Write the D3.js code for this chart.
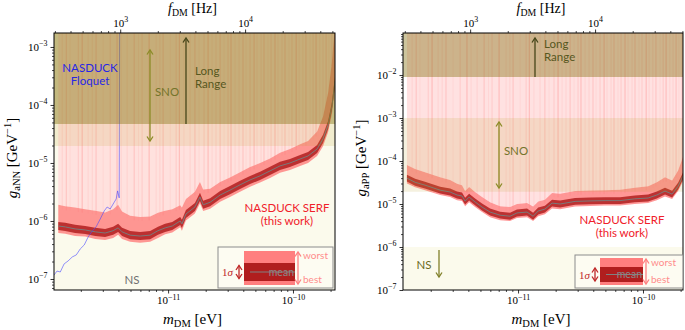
<!DOCTYPE html>
<html>
<head>
<meta charset="utf-8">
<script src="https://cdn.jsdelivr.net/npm/d3@7"></script>
<style>
  body { margin: 0; background: #fff; }
</style>
</head>
<body>
<svg id="chart" width="685" height="330"></svg>
<script>
const hPlanck = 4.1357e-15; // eV s, f = m / h

// g_aNN panel, NASDUCK SERF limit
const massNN = [1.32e-12, 1.50e-12, 1.80e-12, 2.17e-12, 2.61e-12, 3.13e-12, 3.63e-12, 3.98e-12, 4.28e-12, 4.97e-12,
  5.97e-12, 7.18e-12, 8.3e-12, 9.46e-12, 1.08e-11, 1.25e-11, 1.29e-11, 1.39e-11, 1.64e-11, 1.80e-11,
  1.91e-11, 2.17e-11, 2.61e-11, 3.13e-11, 3.77e-11, 4.53e-11, 5.45e-11, 6.55e-11, 7.87e-11, 9.46e-11,
  1.14e-10, 1.32e-10, 1.56e-10, 1.74e-10, 1.91e-10, 2.05e-10, 2.17e-10];
const meanNN = [8.2e-7, 7.9e-7, 7.3e-7, 7.0e-7, 6.5e-7, 6.2e-7, 6.8e-7, 7.6e-7, 6.5e-7, 5.7e-7,
  5.5e-7, 5.7e-7, 6.8e-7, 7.6e-7, 8.2e-7, 1.0e-6, 8.9e-7, 1.32e-6, 1.74e-6, 2.6e-6,
  1.9e-6, 2.1e-6, 2.8e-6, 3.4e-6, 4.2e-6, 5.1e-6, 6.0e-6, 7.3e-6, 8.9e-6, 1.0e-5,
  1.17e-5, 1.32e-5, 1.74e-5, 2.6e-5, 4.5e-5, 9.5e-5, 2.6e-4];
const worstNN = [1.9e-6, 1.8e-6, 1.7e-6, 1.6e-6, 1.5e-6, 1.4e-6, 1.6e-6, 1.9e-6, 1.45e-6, 1.23e-6,
  1.17e-6, 1.2e-6, 1.38e-6, 1.5e-6, 1.6e-6, 1.86e-6, 1.7e-6, 2.4e-6, 3.2e-6, 4.7e-6,
  3.5e-6, 3.6e-6, 4.7e-6, 5.6e-6, 6.9e-6, 8.5e-6, 1.0e-5, 1.2e-5, 1.5e-5, 1.74e-5,
  2.1e-5, 2.4e-5, 3.5e-5, 6.3e-5, 1.6e-4, 5.5e-4, 2.5e-3];
const bestNN = [6.2e-7, 6.0e-7, 5.5e-7, 5.4e-7, 4.9e-7, 4.7e-7, 5.1e-7, 5.8e-7, 4.9e-7, 4.4e-7,
  4.2e-7, 4.4e-7, 5.1e-7, 5.9e-7, 6.3e-7, 7.8e-7, 6.8e-7, 1.02e-6, 1.35e-6, 2.0e-6,
  1.48e-6, 1.62e-6, 2.14e-6, 2.6e-6, 3.2e-6, 3.9e-6, 4.6e-6, 5.5e-6, 6.8e-6, 7.6e-6,
  8.9e-6, 1.0e-5, 1.32e-5, 1.95e-5, 3.4e-5, 7.0e-5, 1.9e-4];

// g_aPP panel
const massPP = [1.29e-12, 1.50e-12, 1.80e-12, 2.38e-12, 2.86e-12, 3.25e-12, 3.56e-12, 3.77e-12, 4.06e-12, 4.53e-12,
  5.15e-12, 5.97e-12, 7.18e-12, 8.63e-12, 9.8e-12, 1.18e-11, 1.32e-11, 1.45e-11, 1.64e-11, 1.87e-11,
  2.17e-11, 2.86e-11, 3.77e-11, 4.97e-11, 6.55e-11, 8.6e-11, 1.10e-10, 1.29e-10, 1.50e-10, 1.71e-10,
  1.91e-10, 2.09e-10];
const meanPP = [4.0e-5, 3.2e-5, 2.75e-5, 2.1e-5, 1.9e-5, 1.62e-5, 1.54e-5, 1.17e-5, 1.45e-5, 1.12e-5,
  8.5e-6, 6.5e-6, 5.5e-6, 5.2e-6, 6.2e-6, 6.5e-6, 5.2e-6, 6.9e-6, 7.6e-6, 1.05e-5,
  1.0e-5, 1.15e-5, 1.18e-5, 1.2e-5, 1.2e-5, 1.32e-5, 1.38e-5, 1.62e-5, 2.0e-5, 1.7e-5,
  2.6e-5, 4.5e-5];
const worstPP = [8.1e-5, 6.5e-5, 5.5e-5, 4.2e-5, 3.6e-5, 2.95e-5, 2.75e-5, 2.0e-5, 2.5e-5, 1.9e-5,
  1.45e-5, 1.1e-5, 8.9e-6, 8.5e-6, 1.0e-5, 1.05e-5, 8.7e-6, 1.15e-5, 1.26e-5, 1.8e-5,
  1.74e-5, 2.0e-5, 2.05e-5, 2.1e-5, 2.15e-5, 2.4e-5, 2.6e-5, 3.2e-5, 4.2e-5, 3.5e-5,
  6.0e-5, 1.26e-4];
const bestPP = [3.0e-5, 2.45e-5, 2.1e-5, 1.62e-5, 1.45e-5, 1.23e-5, 1.17e-5, 8.9e-6, 1.1e-5, 8.5e-6,
  6.5e-6, 4.9e-6, 4.2e-6, 4.0e-6, 4.7e-6, 4.9e-6, 4.0e-6, 5.2e-6, 5.8e-6, 7.9e-6,
  7.6e-6, 8.7e-6, 9.0e-6, 9.2e-6, 9.2e-6, 1.0e-5, 1.05e-5, 1.23e-5, 1.5e-5, 1.3e-5,
  2.0e-5, 3.4e-5];

// 1 sigma half width of the dark band, in decades
const sigmaDexNN = 0.07;
const sigmaDexPP = 0.08;

// narrow frequency bins where the limit is much weaker (same frequencies in both panels)
const spikeMass = [1.42e-12, 1.53e-12, 1.64e-12, 1.91e-12, 2.05e-12, 2.29e-12, 2.47e-12, 2.65e-12, 3.02e-12, 3.44e-12,
  3.9e-12, 4.21e-12, 4.70e-12, 5.35e-12, 5.8e-12, 6.19e-12, 7.05e-12, 8.02e-12, 8.6e-12, 9.12e-12,
  1.04e-11, 1.16e-11, 1.23e-11, 1.34e-11, 1.50e-11, 1.64e-11, 1.77e-11, 1.94e-11, 2.09e-11, 2.25e-11,
  2.42e-11, 2.61e-11, 2.81e-11, 3.02e-11, 3.19e-11, 3.44e-11, 3.70e-11, 3.98e-11, 4.21e-11, 4.53e-11,
  4.88e-11, 5.15e-11, 5.55e-11, 5.86e-11, 6.31e-11, 6.67e-11, 7.18e-11, 7.59e-11, 8.17e-11, 8.63e-11,
  9.29e-11, 9.82e-11, 1.06e-10, 1.12e-10, 1.20e-10, 1.27e-10, 1.37e-10, 1.45e-10, 1.53e-10, 1.64e-10,
  1.74e-10, 1.84e-10, 1.94e-10, 2.05e-10];

// NASDUCK Floquet (g_aNN)
const floquetMass = [1.22e-12, 1.29e-12, 1.37e-12, 1.47e-12, 1.58e-12, 1.71e-12, 1.84e-12, 1.98e-12, 2.13e-12, 2.29e-12,
  2.47e-12, 2.65e-12, 2.86e-12, 3.08e-12, 3.25e-12, 3.44e-12, 3.63e-12, 3.84e-12, 3.94e-12, 4.06e-12, 4.10e-12];
const floquetG = [1.17e-7, 1.37e-7, 1.32e-7, 1.82e-7, 2.04e-7, 2.4e-7, 2.6e-7, 3.3e-7, 3.86e-7, 5.3e-7,
  6.7e-7, 7.9e-7, 1.08e-6, 1.49e-6, 1.74e-6, 1.61e-6, 1.96e-6, 2.4e-6, 3.3e-6, 2.5e-6, 1e-2];

// other bounds [lower, upper]
const snoNN = [1.96e-5, 1];
const longRangeNN = [4.7e-5, 1];
const snoPP = [1.93e-5, 1e-3];
const longRangePP = [9.0e-3, 1];
const nsPP = [1e-9, 1e-6];

const ticksMass = [1e-11, 1e-10];
const ticksFreq = [1e3, 1e4];
const ticksNN = [1e-7, 1e-6, 1e-5, 1e-4, 1e-3];
const ticksPP = [1e-7, 1e-6, 1e-5, 1e-4, 1e-3, 1e-2];

const serif = "'Liberation Serif', 'Times New Roman', serif";
const sans = "Lato, 'Liberation Sans', sans-serif";
const cream = "#fbfaec";
const annSize = 11.5;

const svg = d3.select("#chart");

const panels = [
  {
    id: "NN", x0: 54, x1: 335, y0: 33, y1: 290,
    mDomain: [1.22e-12, 2.17e-10], gDomain: [6.46e-8, 1.74e-3],
    mass: massNN, mean: meanNN, worst: worstNN, best: bestNN, sigma: sigmaDexNN,
    sno: snoNN, longRange: longRangeNN, ns: null, bg: cream,
    gTicks: ticksNN, gSub: "aNN", yLabelX: 17,
    snoArrow: { x: 96, from: 17, to: 108, both: true }, snoText: [113, 63],
    lrArrow: { x: 132, from: 91, to: 5 }, lrText: [141, 42],
    serfText: [233, 179], nsText: [78, 251], nsColor: "#707070", nsArrow: null,
    legend: { x: 164, y: 214, w: 115, h: 41, rx: 190, rw: 51, ry: 4, rh: 34, dy: 12, dh: 18 },
  },
  {
    id: "PP", x0: 403, x1: 683, y0: 33, y1: 290,
    mDomain: [1.20e-12, 2.09e-10], gDomain: [1e-7, 9.5e-2],
    mass: massPP, mean: meanPP, worst: worstPP, best: bestPP, sigma: sigmaDexPP,
    sno: snoPP, longRange: longRangePP, ns: nsPP, bg: "#fff",
    gTicks: ticksPP, gSub: "aPP", yLabelX: 366,
    snoArrow: { x: 96, from: 89, to: 155, both: true }, snoText: [113, 122],
    lrArrow: { x: 132, from: 44, to: 5 }, lrText: [141, 15],
    serfText: [219, 191], nsText: [21, 236], nsColor: "#6b6b22",
    nsArrow: { x: 36, from: 217, to: 244 },
    legend: { x: 172, y: 222, w: 108, h: 33, rx: 197, rw: 43, ry: 3, rh: 27, dy: 9, dh: 15 },
  },
];

function powerLabel(text, value, size) {
  let e = Math.round(Math.log10(value));
  text.text(null);
  text.append("tspan").text("10");
  text.append("tspan")
    .attr("dy", -size * 0.42)
    .attr("font-size", size * 0.72)
    .text(e < 0 ? "\u2212" + (-e) : e);
}

function isDecade(v) {
  let l = Math.log10(v);
  return Math.abs(l - Math.round(l)) < 1e-6;
}

function drawAxis(parent, axisFn, scale, majors, transform) {
  let minors = scale.ticks().filter(t => !isDecade(t));

  parent.append("g")
    .attr("transform", transform)
    .call(axisFn(scale).tickValues(minors).tickSize(2).tickFormat(""))
    .call(g => g.select(".domain").remove())
    .call(g => g.selectAll(".tick line").attr("stroke-width", 0.7));

  parent.append("g")
    .attr("transform", transform)
    .call(axisFn(scale).tickValues(majors).tickSize(3.5).tickPadding(3))
    .call(g => g.select(".domain").remove())
    .call(g => g.selectAll(".tick line").attr("stroke-width", 0.8))
    .call(g => g.selectAll(".tick text")
      .attr("font-family", serif)
      .attr("font-size", 11)
      .attr("fill", "#000")
      .each(function (d) { powerLabel(d3.select(this), d, 11); }));
}

function mathLabel(text, main, sub, rest, sup, tail, size) {
  text.attr("font-family", serif).attr("font-size", size).attr("fill", "#000");
  text.append("tspan").attr("font-style", "italic").text(main);
  text.append("tspan").attr("font-size", size * 0.7).attr("dy", size * 0.22).text(sub);
  text.append("tspan").attr("dy", -size * 0.22).text(rest);
  if (sup) {
    text.append("tspan").attr("font-size", size * 0.7).attr("dy", -size * 0.4).text(sup);
    text.append("tspan").attr("dy", size * 0.4).text(tail);
  }
}

function arrow(g, x, from, to, color, both) {
  g.append("line")
    .attr("x1", x).attr("x2", x).attr("y1", from).attr("y2", to)
    .attr("stroke", color).attr("stroke-width", 1.3);
  let head = (tip, dir) => g.append("path")
    .attr("d", `M${x - 3},${tip + dir * 4.5}L${x},${tip}L${x + 3},${tip + dir * 4.5}`)
    .attr("fill", "none").attr("stroke", color).attr("stroke-width", 1.3);
  let dir = to < from ? 1 : -1;
  head(to, dir);
  if (both) head(from, -dir);
}

function drawLegend(g, L) {
  let lg = g.append("g").attr("transform", `translate(${L.x},${L.y})`);
  lg.append("rect")
    .attr("width", L.w).attr("height", L.h)
    .attr("fill", "#fdfcf3").attr("fill-opacity", 0.85)
    .attr("stroke", "#8c8c8c").attr("stroke-width", 1);
  let rx = L.rx - L.x;
  lg.append("rect")
    .attr("x", rx).attr("y", L.ry).attr("width", L.rw).attr("height", L.rh)
    .attr("fill", "#ff7f7f");
  lg.append("rect")
    .attr("x", rx).attr("y", L.ry + L.dy).attr("width", L.rw).attr("height", L.dh)
    .attr("fill", "#b01e1e");
  let mid = L.ry + L.dy + L.dh / 2;
  lg.append("line")
    .attr("x1", rx + 6).attr("x2", rx + L.rw).attr("y1", mid).attr("y2", mid)
    .attr("stroke", "#808080").attr("stroke-width", 1);
  lg.append("text")
    .attr("x", rx + L.rw - 1).attr("y", mid + 3.5)
    .attr("text-anchor", "end").attr("font-family", sans).attr("font-size", 10.5)
    .attr("fill", "#8a8a8a").text("mean");
  let sig = lg.append("text")
    .attr("x", 4).attr("y", mid + 4)
    .attr("font-family", serif).attr("font-size", 11).attr("fill", "#c02828");
  sig.append("tspan").text("1");
  sig.append("tspan").attr("font-style", "italic").text("\u03c3");
  arrow(lg, rx - 5, mid - 6.5, mid + 6.5, "#c02828", true);
  let ax = rx + L.rw + 3;
  arrow(lg, ax, L.ry + L.rh - 1, L.ry + 1, "#ff8080", true);
  lg.append("text")
    .attr("x", ax + 5).attr("y", L.ry + 8)
    .attr("font-family", sans).attr("font-size", 10).attr("fill", "#ff8c8c").text("worst");
  lg.append("text")
    .attr("x", ax + 5).attr("y", L.ry + L.rh - 2)
    .attr("font-family", sans).attr("font-size", 10).attr("fill", "#ff8c8c").text("best");
}

function twoLines(g, x, y, anchor, color, first, second) {
  [first, second].forEach((t, i) => g.append("text")
    .attr("x", x).attr("y", y + i * 13).attr("text-anchor", anchor)
    .attr("font-family", sans).attr("font-size", annSize).attr("fill", color).text(t));
}

function drawPanel(p) {
  let x = d3.scaleLog().domain(p.mDomain).range([p.x0, p.x1]);
  let y = d3.scaleLog().domain(p.gDomain).range([p.y1, p.y0]);
  let fx = d3.scaleLog().domain(p.mDomain.map(m => m / hPlanck)).range([p.x0, p.x1]);
  let w = p.x1 - p.x0, h = p.y1 - p.y0;

  svg.append("clipPath").attr("id", "clip" + p.id)
    .append("rect").attr("x", p.x0).attr("y", p.y0).attr("width", w).attr("height", h);

  let g = svg.append("g");
  let plot = g.append("g").attr("clip-path", `url(#clip${p.id})`);

  plot.append("rect")
    .attr("x", p.x0).attr("y", p.y0).attr("width", w).attr("height", h)
    .attr("fill", p.bg);
  if (p.ns) {
    plot.append("rect")
      .attr("x", p.x0).attr("width", w)
      .attr("y", y(p.ns[1])).attr("height", p.y1 - y(p.ns[1]))
      .attr("fill", cream);
  }

  let rows = p.mass.map((m, i) => ({ m, mean: p.mean[i], worst: p.worst[i], best: p.best[i] }));
  let sFac = Math.pow(10, p.sigma);

  // everything above the limit is excluded
  plot.append("path").datum(rows)
    .attr("d", d3.area().x(d => x(d.m)).y0(d => y(d.worst)).y1(p.y0))
    .attr("fill", "#ffdcdc").attr("fill-opacity", 0.85);

  let worstAt = d3.scaleLog().domain(p.mass).range(p.worst.map(Math.log10)).clamp(true);
  let last = p.mass[p.mass.length - 1];
  let spikeAlpha = [0.12, 0.25, 0.08, 0.18, 0.32, 0.1];
  plot.append("g").selectAll("line")
    .data(spikeMass.filter(m => m >= p.mass[0] && m <= last))
    .join("line")
    .attr("x1", d => x(d)).attr("x2", d => x(d))
    .attr("y1", d => y(Math.pow(10, worstAt(d))) + 4).attr("y2", p.y0)
    .attr("stroke", "#ff5050").attr("stroke-width", 0.9)
    .attr("stroke-opacity", (d, i) => spikeAlpha[i % spikeAlpha.length]);

  plot.append("path").datum(rows)
    .attr("d", d3.area().x(d => x(d.m)).y0(d => y(d.best)).y1(d => y(d.worst)))
    .attr("fill", "#ff7474").attr("fill-opacity", 0.75);

  plot.append("path").datum(rows)
    .attr("d", d3.area().x(d => x(d.m)).y0(d => y(d.mean / sFac)).y1(d => y(d.mean * sFac)))
    .attr("fill", "#b01e1e").attr("fill-opacity", 0.85);

  plot.append("path").datum(rows)
    .attr("d", d3.line().x(d => x(d.m)).y(d => y(d.mean)))
    .attr("fill", "none").attr("stroke", "#7a7a7a").attr("stroke-width", 1);

  if (p.id === "NN") {
    plot.append("path")
      .datum(floquetMass.map((m, i) => [m, floquetG[i]]))
      .attr("d", d3.line().x(d => x(d[0])).y(d => y(d[1])))
      .attr("fill", "none").attr("stroke", "#4a4aff").attr("stroke-opacity", 0.75)
      .attr("stroke-width", 0.8);
  }

  // SNO and long range bounds
  let band = (b, color, alpha) => plot.append("rect")
    .attr("x", p.x0).attr("width", w)
    .attr("y", y(Math.min(b[1], p.gDomain[1])))
    .attr("height", y(b[0]) - y(Math.min(b[1], p.gDomain[1])))
    .attr("fill", color).attr("fill-opacity", alpha);
  band(p.sno, "rgb(190,160,40)", 0.15);
  band(p.longRange, "rgb(128,110,10)", 0.4);

  // axes
  drawAxis(g, d3.axisBottom, x, ticksMass, `translate(0,${p.y1})`);
  drawAxis(g, d3.axisTop, fx, ticksFreq, `translate(0,${p.y0})`);
  drawAxis(g, d3.axisLeft, y, p.gTicks, `translate(${p.x0},0)`);

  g.append("rect")
    .attr("x", p.x0).attr("y", p.y0).attr("width", w).attr("height", h)
    .attr("fill", "none").attr("stroke", "#000").attr("stroke-width", 1);

  let cx = (p.x0 + p.x1) / 2 - 2;
  mathLabel(g.append("text").attr("x", cx).attr("y", 324).attr("text-anchor", "middle"),
    "m", "DM", " [eV]", null, null, 15);
  mathLabel(g.append("text").attr("x", cx).attr("y", 13).attr("text-anchor", "middle"),
    "f", "DM", " [Hz]", null, null, 14);
  mathLabel(g.append("text")
      .attr("transform", `translate(${p.yLabelX},158) rotate(-90)`)
      .attr("text-anchor", "middle"),
    "g", p.gSub, " [GeV", "\u22121", "]", 15);

  // annotations
  let ann = g.append("g").attr("transform", `translate(${p.x0},${p.y0})`);
  arrow(ann, p.snoArrow.x, p.snoArrow.from, p.snoArrow.to, "#8c8c28", p.snoArrow.both);
  ann.append("text")
    .attr("x", p.snoText[0]).attr("y", p.snoText[1]).attr("text-anchor", "middle")
    .attr("font-family", sans).attr("font-size", annSize).attr("fill", "#74742a").text("SNO");
  arrow(ann, p.lrArrow.x, p.lrArrow.from, p.lrArrow.to, "#46461a", false);
  twoLines(ann, p.lrText[0], p.lrText[1], "start", "#57571e", "Long", "Range");
  twoLines(ann, p.serfText[0], p.serfText[1], "middle", "#f0202a", "NASDUCK SERF", "(this work)");

  ann.append("text")
    .attr("x", p.nsText[0]).attr("y", p.nsText[1]).attr("text-anchor", "middle")
    .attr("font-family", sans).attr("font-size", annSize).attr("fill", p.nsColor).text("NS");
  if (p.nsArrow) arrow(ann, p.nsArrow.x, p.nsArrow.from, p.nsArrow.to, "#80802a", false);

  if (p.id === "NN") twoLines(ann, 36, 39, "middle", "#2626e6", "NASDUCK", "Floquet");

  drawLegend(ann, p.legend);
}

panels.forEach(drawPanel);
</script>
</body>
</html>
